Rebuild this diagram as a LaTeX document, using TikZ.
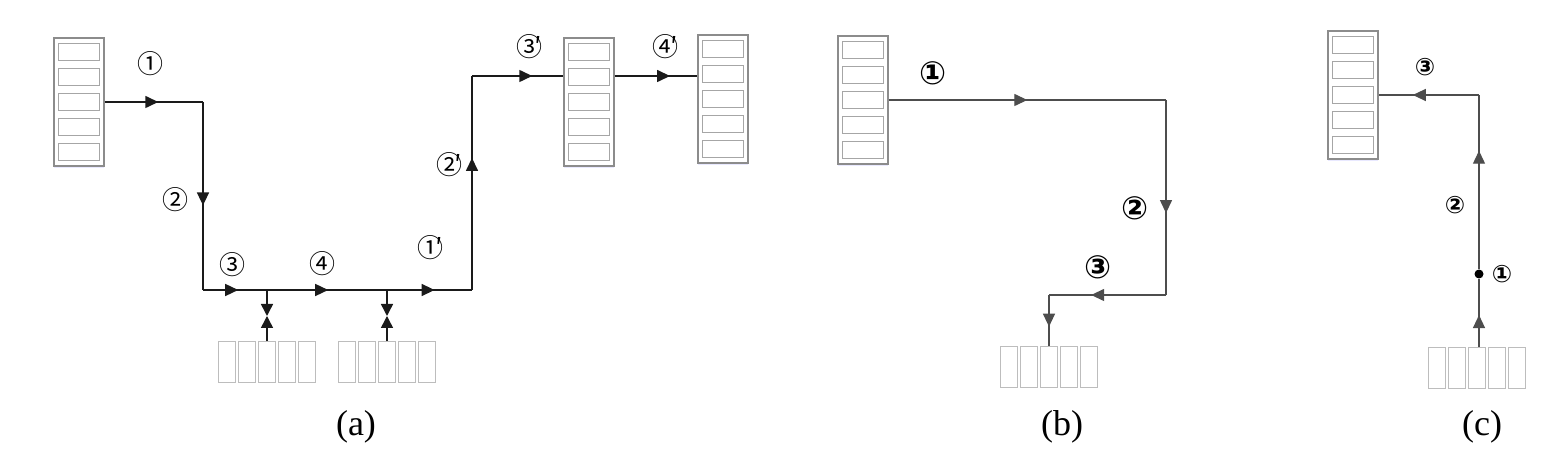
\documentclass[tikz,border=0pt]{standalone}
\usepackage{fontspec}
\setmainfont{Liberation Serif}
\newfontfamily\cjk{Noto Sans CJK SC}
\newfontfamily\dvs{DejaVu Sans}
\usetikzlibrary{arrows.meta,decorations.markings,shadows}
\definecolor{rackgray}{HTML}{8C8C8C}
\definecolor{slotgray}{HTML}{A6A6A6}
\definecolor{hgray}{HTML}{BDBDBD}
\definecolor{linea}{HTML}{1A1A1A}
\definecolor{lineb}{HTML}{4D4D4D}

\begin{document}
\begin{tikzpicture}[x=0.5pt, y=-0.5pt,
	vrack/.style={draw=rackgray, line width=0.7pt, fill=white, inner sep=0pt,
		minimum width=25pt, minimum height=64pt,
		drop shadow={shadow xshift=0pt, shadow yshift=-1.2pt, fill=blue!25, opacity=0.35}},
	hrack/.style={inner sep=0pt, minimum width=48.5pt, minimum height=20.5pt},
	slot/.style={draw=slotgray, line width=0.6pt},
	hslot/.style={draw=hgray, line width=0.6pt},
	flow/.style={draw=linea, line width=0.75pt, postaction={decorate},
		decoration={markings, mark=at position #1 with {\arrow{Triangle[length=6.5pt,width=6pt]}}}},
	flow/.default=0.55,
	flowb/.style={flow=#1, draw=lineb, line width=0.6pt},
	tip/.style={draw=linea, line width=0.75pt, -{Triangle[length=6pt,width=6pt]}},
	numa/.style={font=\cjk\fontsize{13}{13}\selectfont, inner sep=0pt},
	numb/.style={font=\dvs\bfseries\fontsize{16}{16}\selectfont, inner sep=0pt},
	numc/.style={font=\dvs\bfseries\fontsize{12}{12}\selectfont, inner sep=0pt},
	caption/.style={font=\fontsize{18}{18}\selectfont, inner sep=0pt},
	dot/.style={circle, fill=black, inner sep=0pt, minimum size=4.5pt}]

	\useasboundingbox (0,0) rectangle (1554,458);

	% vertical racks
	\foreach \name/\x/\y in {A1/79/102, A2/589/102, A3/723/99, B1/863/100, C1/1353/95} {
		\node[vrack] (\name) at (\x,\y) {};
		\foreach \k in {-50,-25,0,25,50}
			\draw[slot] ([shift={(-20.5,\k-8.5)}]\name.center) rectangle ++(41,17);
	}

	% horizontal racks
	\foreach \name/\x/\y in {H1/267/362, H2/387/362, B2/1049/367, C2/1477/368} {
		\node[hrack] (\name) at (\x,\y) {};
		\foreach \k in {-40,-20,0,20,40}
			\draw[hslot] ([shift={(\k-8.5,-20.5)}]\name.center) rectangle ++(17,41);
	}

	% (a)
	\coordinate (a1) at (203,102);
	\coordinate (a2) at (203,290);
	\coordinate (j1) at (267,290);
	\coordinate (j2) at (387,290);
	\coordinate (a3) at (472,290);
	\coordinate (a4) at (472,76);
	\coordinate (v1) at (267,316);
	\coordinate (v2) at (387,316);

	\draw[flow=0.545] (A1.east) -- (a1);
	\draw[flow=0.55] (a1) -- (a2);
	\draw[flow=0.55] (a2) -- (j1);
	\draw[flow=0.51] (j1) -- (j2);
	\draw[flow=0.56] (j2) -- (a3);
	\draw[flow=0.617] (a3) -- (a4);
	\draw[flow=0.66] (a4) -- (A2.west |- a4);
	\draw[flow=0.67] (A2.east |- a4) -- (A3.west |- a4);
	\draw[tip] (j1) -- (v1);
	\draw[tip] (H1.north) -- (v1);
	\draw[tip] (j2) -- (v2);
	\draw[tip] (H2.north) -- (v2);

	\node[numa] (n1) at (150,64) {①};
	\node[numa] (n2) at (175,200) {②};
	\node[numa] (n3) at (232,265) {③};
	\node[numa] (n4) at (322,264) {④};
	\node[numa] (n1p) at (430,248) {①\kern-0.3em′};
	\node[numa] (n2p) at (449,165) {②\kern-0.3em′};
	\node[numa] (n3p) at (529,47) {③\kern-0.3em′};
	\node[numa] (n4p) at (665,47) {④\kern-0.3em′};

	% (b)
	\coordinate (b1) at (1166,100);
	\coordinate (b2) at (1166,295);
	\coordinate (b3) at (1049,295);

	\draw[flowb=0.50] (B1.east) -- (b1);
	\draw[flowb=0.58] (b1) -- (b2);
	\draw[flowb=0.64] (b2) -- (b3);
	\draw[flowb=0.62] (b3) -- (B2.north);

	\node[numb] (m1) at (933,73) {①};
	\node[numb] (m2) at (1135,208) {②};
	\node[numb] (m3) at (1098,267) {③};

	% (c)
	\node[dot] (d) at (1479,274) {};
	\coordinate (c1) at (1479,95);

	\draw[flowb=0.47] (C2.north -| d) -- (d);
	\draw[flowb=0.68] (d) -- (c1);
	\draw[flowb=0.66] (c1) -- (C1.east);

	\node[numc] (k1) at (1502,274) {①};
	\node[numc] (k2) at (1455,205) {②};
	\node[numc] (k3) at (1425,67) {③};

	\node[caption] (capa) at (356,427) {(a)};
	\node[caption] (capb) at (1062,427) {(b)};
	\node[caption] (capc) at (1482,427) {(c)};

\end{tikzpicture}
\end{document}
